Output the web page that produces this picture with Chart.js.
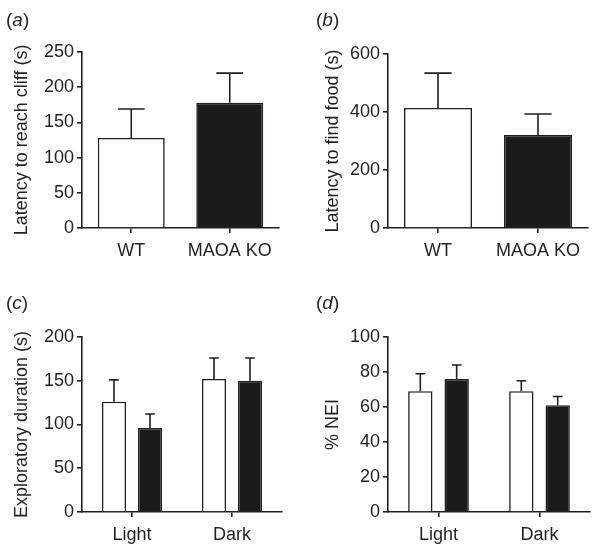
<!DOCTYPE html>
<html>
<head>
<meta charset="utf-8">
<script src="https://cdn.jsdelivr.net/npm/chart.js@4/dist/chart.umd.min.js"></script>
<style>
  body { margin: 0; background: #fff; }
  #wrap { position: relative; width: 601px; height: 550px; overflow: hidden; }
  #wrap canvas { position: absolute; left: 0; top: 0; }
  .tag { position: absolute; font: 19px "Liberation Sans", Arial, sans-serif; color: #231f20; }
</style>
</head>
<body>
<div id="wrap">
  <canvas id="ca" width="601" height="550"></canvas>
  <canvas id="cb" width="601" height="550"></canvas>
  <canvas id="cc" width="601" height="550"></canvas>
  <canvas id="cd" width="601" height="550"></canvas>
  <div class="tag" style="left:6px;top:9px">(<i>a</i>)</div>
  <div class="tag" style="left:316px;top:9px">(<i>b</i>)</div>
  <div class="tag" style="left:6px;top:292px">(<i>c</i>)</div>
  <div class="tag" style="left:316px;top:292px">(<i>d</i>)</div>
</div>
<script>
// panel a / b: WT vs MAOA KO
const genotypes = ["WT", "MAOA KO"];
const cliffMean = [128, 178];
const cliffSem = [41, 42];
const foodMean = [414, 321];
const foodSem = [120, 72];

// panel c / d: light vs dark box
const boxes = ["Light", "Dark"];
const exploreWT = [126, 152];
const exploreWTSem = [25, 24];
const exploreKO = [96, 150];
const exploreKOSem = [16, 26];
const neiWT = [69, 69];
const neiWTSem = [10, 6];
const neiKO = [76, 61];
const neiKOSem = [8, 5];

const ink = "#231f20";
const font = { family: "'Liberation Sans', Arial, sans-serif", size: 18 };

// upper whisker only, cap drawn at the SEM end
const errorBars = {
    id: "errorBars",
    afterDatasetsDraw(chart) {
        const ctx = chart.ctx, y = chart.scales.y;
        ctx.save();
        ctx.strokeStyle = ink;
        ctx.lineWidth = 1.6;
        chart.data.datasets.forEach((ds, i) => {
            chart.getDatasetMeta(i).data.forEach((bar, j) => {
                const top = y.getPixelForValue(ds.data[j] + ds.sem[j]);
                const half = bar.width * 0.2;
                ctx.beginPath();
                ctx.moveTo(bar.x, bar.y);
                ctx.lineTo(bar.x, top);
                ctx.moveTo(bar.x - half, top);
                ctx.lineTo(bar.x + half, top);
                ctx.stroke();
            });
        });
        ctx.restore();
    }
};

function panel(id, box, labels, datasets, yMax, step, title, barPct, catPct) {
    const yWidth = box.yw, xHeight = 40;
    new Chart(document.getElementById(id), {
        type: "bar",
        data: { labels, datasets },
        options: {
            responsive: false,
            animation: false,
            layout: { padding: { left: box.l - yWidth, top: box.t, right: 601 - box.r, bottom: 550 - box.b - xHeight } },
            plugins: { legend: { display: false }, tooltip: { enabled: false } },
            datasets: { bar: { barPercentage: barPct, categoryPercentage: catPct, borderWidth: 1.6, borderColor: ink } },
            scales: {
                x: {
                    afterFit: s => { s.height = xHeight; },
                    grid: { offset: false, drawOnChartArea: false, tickLength: 5, color: ink, lineWidth: 1.6 },
                    border: { display: true, color: ink, width: 1.6 },
                    ticks: { font, color: ink, padding: 7 }
                },
                y: {
                    min: 0, max: yMax,
                    afterFit: s => { s.width = yWidth; },
                    grid: { drawOnChartArea: false, tickLength: 5, color: ink, lineWidth: 1.6 },
                    border: { display: true, color: ink, width: 1.6 },
                    ticks: { stepSize: step, font, color: ink, padding: 3 },
                    title: { display: true, text: title, font, color: ink }
                }
            }
        },
        plugins: [errorBars]
    });
}

panel("ca", { l: 82, r: 279, t: 52, b: 228, yw: 75 }, genotypes,
    [{ data: cliffMean, sem: cliffSem, backgroundColor: ["#ffffff", "#1c1a1b"] }],
    250, 50, "Latency to reach cliff (s)", 0.68, 1);

panel("cb", { l: 388, r: 588, t: 54, b: 228, yw: 70 }, genotypes,
    [{ data: foodMean, sem: foodSem, backgroundColor: ["#ffffff", "#1c1a1b"] }],
    600, 200, "Latency to find food (s)", 0.68, 1);

panel("cc", { l: 82, r: 282, t: 337, b: 512, yw: 75 }, boxes,
    [{ data: exploreWT, sem: exploreWTSem, backgroundColor: "#ffffff" },
     { data: exploreKO, sem: exploreKOSem, backgroundColor: "#1c1a1b" }],
    200, 50, "Exploratory duration (s)", 0.67, 0.72);

panel("cd", { l: 388, r: 590, t: 337, b: 512, yw: 70 }, boxes,
    [{ data: neiWT, sem: neiWTSem, backgroundColor: "#ffffff" },
     { data: neiKO, sem: neiKOSem, backgroundColor: "#1c1a1b" }],
    100, 20, "% NEI", 0.67, 0.72);
</script>
</body>
</html>
